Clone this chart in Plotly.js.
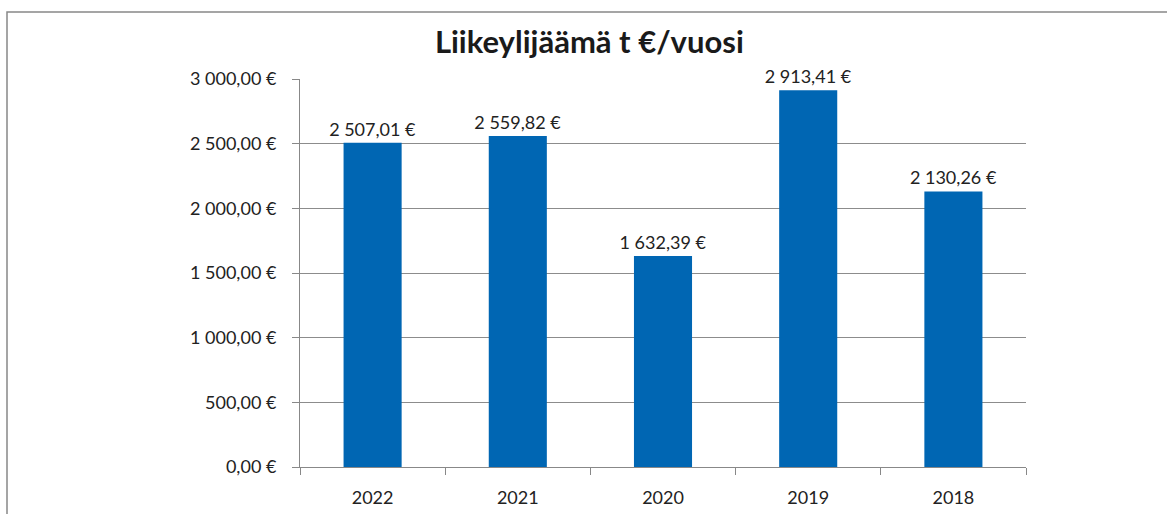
<!DOCTYPE html>
<html>
<head>
<meta charset="utf-8">
<script src="https://cdn.plot.ly/plotly-3.0.1.min.js"></script>
<style>
html,body{margin:0;padding:0;background:#fff;}
#chart{width:1167px;height:514px;}
</style>
</head>
<body>
<div id="chart"></div>
<script>
const years = ["2022", "2021", "2020", "2019", "2018"];
const values = [2507.01, 2559.82, 1632.39, 2913.41, 2130.26];
const valueLabels = ["2 507,01 €", "2 559,82 €", "1 632,39 €", "2 913,41 €", "2 130,26 €"];
const yTickVals = [0, 500, 1000, 1500, 2000, 2500, 3000];
const yTickText = ["0,00 €", "500,00 €", "1 000,00 €", "1 500,00 €", "2 000,00 €", "2 500,00 €", "3 000,00 €"];
const titleText = "Liikeylijäämä t €/vuosi";

const W = 1167, H = 514;
const m = {l: 300, r: 141, t: 79, b: 47};
const pw = W - m.l - m.r, ph = H - m.t - m.b;
// outer chart frame (pixel -> paper)
const fx0 = (7 - m.l) / pw, fx1 = (1180 - m.l) / pw;
const fy1 = (H - m.b - 12) / ph, fy0 = (H - m.b - 530) / ph;

const FONT = "Lato, 'Open Sans', sans-serif";

const trace = {
  type: "bar",
  x: years,
  y: values,
  text: valueLabels,
  textposition: "outside",
  constraintext: "none",
  cliponaxis: false,
  textfont: {family: FONT, size: 18, color: "#222"},
  marker: {color: "#0066b3", line: {width: 0}},
  hoverinfo: "skip"
};

const layout = {
  width: W, height: H,
  margin: m,
  paper_bgcolor: "#fff",
  plot_bgcolor: "#fff",
  showlegend: false,
  bargap: 0.6,
  font: {family: FONT, size: 18, color: "#222"},
  title: {
    text: "<b>" + titleText + "</b>",
    font: {family: FONT, size: 31, color: "#1a1a1a"},
    x: 0.505, xanchor: "center",
    y: 1 - 42 / H, yanchor: "middle"
  },
  xaxis: {
    type: "category",
    showgrid: false,
    showline: true, linecolor: "#888", linewidth: 1,
    ticks: "outside", tickson: "boundaries", ticklen: 7, tickcolor: "#888", tickwidth: 1,
    ticklabelstandoff: 14,
    tickfont: {family: FONT, size: 18, color: "#222"},
    fixedrange: true
  },
  yaxis: {
    range: [0, 3000],
    tickvals: yTickVals,
    ticktext: yTickText,
    showgrid: true, gridcolor: "#8c8c8c", gridwidth: 1,
    showline: true, linecolor: "#888", linewidth: 1,
    ticks: "outside", ticklen: 7, tickcolor: "#888", tickwidth: 1,
    ticklabelstandoff: 12,
    zeroline: false,
    tickfont: {family: FONT, size: 18, color: "#222"},
    fixedrange: true
  },
  shapes: [{
    type: "rect", xref: "paper", yref: "paper",
    x0: fx0, x1: fx1, y0: fy0, y1: fy1,
    line: {color: "#888", width: 1.5},
    fillcolor: "rgba(0,0,0,0)",
    layer: "above"
  }]
};

Plotly.newPlot("chart", [trace], layout, {displayModeBar: false, staticPlot: true});
</script>
</body>
</html>
